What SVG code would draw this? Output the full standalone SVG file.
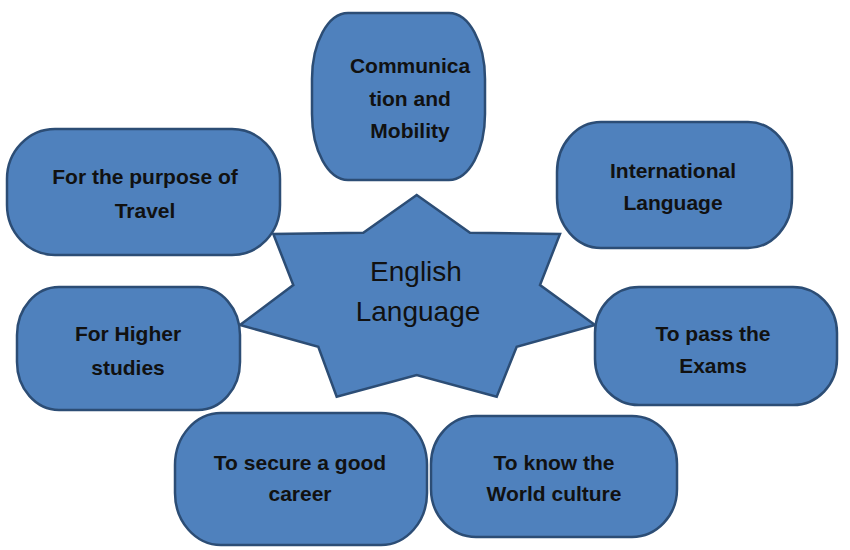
<svg xmlns="http://www.w3.org/2000/svg" width="850" height="550" viewBox="0 0 850 550">
<style>
.n{fill:#4F81BD;stroke:#2C4D75;stroke-width:2.5}
.t{font-family:"Liberation Sans",Arial,sans-serif;font-weight:bold;font-size:21px;fill:#111;text-anchor:middle}
.c{font-family:"Liberation Sans",Arial,sans-serif;font-size:28px;fill:#111;text-anchor:middle}
</style>
<rect width="850" height="550" fill="#fff"/>
<g id="connectors"></g>
<g id="center">
<polygon class="n" points="416.7,195 470,232.7 560,234 540,285 595,325 516.7,346.7 496.7,396.7 416.7,375 336.7,396.7 318.3,346.7 240,325 293.3,285 273.3,234 363.3,232.7"/>
<text class="c" x="416" y="281">English</text>
<text class="c" x="418" y="321">Language</text>
</g>
<g id="communication">
<rect class="n" x="312" y="13" width="173" height="167" rx="36" ry="66"/>
<text class="t" x="410" y="73">Communica</text>
<text class="t" x="410" y="106">tion and</text>
<text class="t" x="410" y="138">Mobility</text>
</g>
<g id="travel">
<rect class="n" x="7" y="129" width="273" height="126" rx="48" ry="50"/>
<text class="t" x="145" y="184">For the purpose of</text>
<text class="t" x="145" y="218">Travel</text>
</g>
<g id="international">
<rect class="n" x="557" y="122" width="235" height="126" rx="44" ry="50"/>
<text class="t" x="673" y="178">International</text>
<text class="t" x="673" y="210">Language</text>
</g>
<g id="higher">
<rect class="n" x="17" y="287" width="223" height="123" rx="42" ry="48"/>
<text class="t" x="128" y="341">For Higher</text>
<text class="t" x="128" y="375">studies</text>
</g>
<g id="exams">
<rect class="n" x="595" y="287" width="242" height="118" rx="44" ry="46"/>
<text class="t" x="713" y="341">To pass the</text>
<text class="t" x="713" y="373">Exams</text>
</g>
<g id="career">
<rect class="n" x="175" y="413" width="252" height="132" rx="46" ry="52"/>
<text class="t" x="300" y="470">To secure a good</text>
<text class="t" x="300" y="501">career</text>
</g>
<g id="culture">
<rect class="n" x="431" y="416" width="246" height="121" rx="45" ry="48"/>
<text class="t" x="554" y="470">To know the</text>
<text class="t" x="554" y="501">World culture</text>
</g>
</svg>
